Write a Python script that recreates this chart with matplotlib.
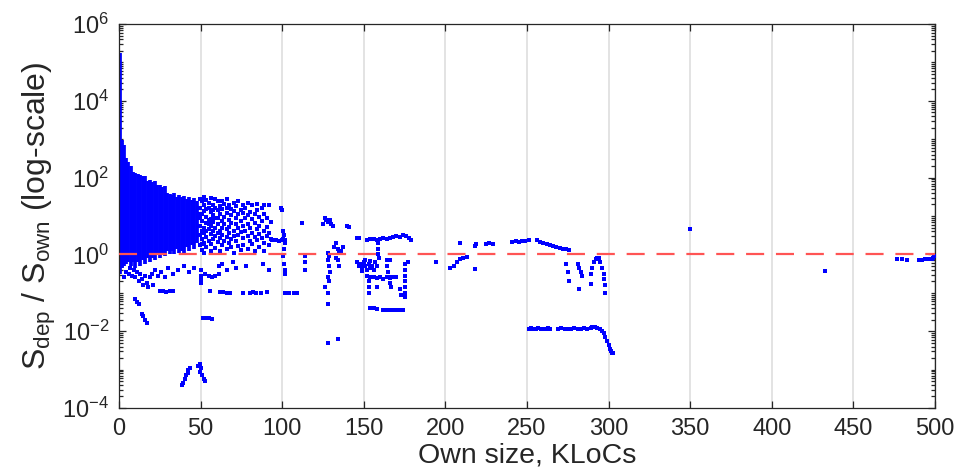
import matplotlib
matplotlib.use("Agg")
import matplotlib.pyplot as plt
import numpy as np
from matplotlib.ticker import FixedLocator, NullFormatter

plt.rcParams['font.family'] = ['Liberation Sans', 'DejaVu Sans']
plt.rcParams['mathtext.default'] = 'regular'
plt.rcParams['lines.scale_dashes'] = False

# dense core of the cloud: column x, log10 lower / upper extent
core_x = [0.5, 1.7, 3.0, 4.4, 5.8, 7.2, 8.6, 10.0, 11.5, 13.0, 14.5, 16.0, 17.5, 19.0,
          20.5, 22.0, 23.5, 25.0, 26.5, 28.0, 29.5, 31.0, 32.5, 34.0, 35.5, 37.0, 38.5,
          40.0, 41.5, 43.0, 44.5, 46.0, 47.5]
core_lo = [-0.5, -0.35, -0.3, -0.25, -0.2, -0.3, -0.2, -0.35, -0.2, -0.3, -0.15, -0.25,
           -0.1, -0.2, -0.1, -0.15, 0.0, -0.1, 0.05, -0.05, 0.1, 0.0, 0.1, 0.0, 0.15, 0.05,
           0.1, 0.0, 0.2, 0.1, 0.25, 0.15, 0.3]
core_hi = [5.25, 2.97, 2.85, 2.5, 2.4, 2.3, 2.15, 2.13, 2.1, 2.08, 2.05, 2.05, 1.92, 1.95,
           1.88, 1.9, 1.8, 1.82, 1.75, 1.78, 1.6, 1.58, 1.55, 1.6, 1.5, 1.55, 1.5, 1.52,
           1.45, 1.5, 1.42, 1.48, 1.4]

# scattered samples around the upper cloud, 49-112 KLoC
cloud_x = [49.5, 49.5, 49.5, 49.5, 49.5, 49.5, 49.5,
           50.8, 50.8, 50.8, 50.8, 50.8, 50.8, 50.8,
           52.1, 52.1, 52.1, 52.1, 52.1, 52.1, 52.1,
           53.6, 53.6, 53.6, 53.6, 53.6, 53.6, 53.6,
           54.9, 54.9, 54.9, 54.9, 54.9, 54.9,
           56.3, 56.3, 56.3, 56.3, 56.3, 56.3, 56.3,
           57.5, 57.5, 57.5, 57.5, 57.5, 57.5,
           58.9, 58.9, 58.9, 58.9, 58.9, 58.9,
           60.4, 60.4, 60.4, 60.4, 60.4, 60.4,
           61.7, 61.7, 61.7, 61.7, 61.7,
           63.2, 63.2, 63.2, 63.2, 63.2, 63.2,
           64.6, 64.6, 64.6, 64.6,
           66.0, 66.0, 66.0, 66.0, 66.0, 66.0,
           67.5, 67.5, 67.5, 67.5, 67.5,
           68.9, 68.9, 68.9, 68.9, 68.9,
           70.3, 70.3, 70.3, 70.3, 70.3,
           71.8, 71.8, 71.8, 71.8,
           73.1, 73.1, 73.1, 73.1, 73.1,
           74.6, 74.6, 74.6, 74.6,
           76.0, 76.0, 76.0, 76.0, 76.0,
           77.4, 77.4, 77.4,
           78.9, 78.9, 78.9, 78.9, 78.9,
           80.3, 80.3, 80.3,
           81.8, 81.8, 81.8, 81.8,
           83.2, 83.2, 83.2, 83.2,
           84.7, 84.7, 84.7, 84.7,
           86.1, 86.1, 86.1, 86.1,
           87.6, 87.6, 87.6,
           89.0, 89.0, 89.0, 89.0, 89.0,
           90.5, 90.5, 90.5,
           92.0, 92.0, 92.0,
           93.4, 93.4,
           94, 96, 98, 100, 102, 99, 100, 112]
cloud_e = [1.45, 1.2, 1.05, 0.95, 0.75, 0.5, 0.25,
           1.38, 1.05, 0.88, 0.62, 0.4, 0.28, 0.12,
           1.5, 1.28, 1.12, 0.7, 0.55, 0.3, 0.05,
           1.42, 1.18, 0.98, 0.82, 0.6, 0.45, 0.2,
           1.35, 1.22, 0.9, 0.78, 0.65, 0.35,
           1.48, 1.1, 0.92, 0.75, 0.52, 0.28, 0.1,
           1.3, 1.15, 1.02, 0.85, 0.6, 0.4,
           1.45, 1.2, 0.95, 0.7, 0.48, 0.18,
           1.38, 1.15, 0.95, 0.78, 0.55, 0.32,
           1.25, 1.05, 0.62, 0.42, 0.08,
           1.4, 1.18, 0.88, 0.7, 0.5, 0.25,
           1.32, 0.98, 0.8, 0.35,
           1.45, 1.22, 1.08, 0.65, 0.45, 0.15,
           1.3, 0.9, 0.72, 0.55, 0.3,
           1.18, 1.02, 0.82, 0.4, 0.2,
           1.35, 1.12, 0.6, 0.48, 0.05,
           1.25, 0.95, 0.78, 0.35,
           1.4, 1.05, 0.68, 0.5, 0.22,
           1.15, 0.88, 0.58, 0.12,
           1.3, 1.08, 0.75, 0.42, 0.25,
           1.2, 0.95, 0.62,
           1.35, 1.02, 0.8, 0.48, 0.15,
           1.1, 0.7, 0.35,
           1.28, 0.92, 0.55, 0.28,
           1.05, 0.82, 0.45, 0.1,
           1.32, 1.15, 0.65, 0.38,
           0.98, 0.75, 0.52, 0.2,
           1.22, 0.88, 0.42,
           1.3, 1.05, 0.62, 0.3, 0.08,
           0.95, 0.72, 0.48,
           1.28, 0.55, 0.25,
           0.85, 0.4,
           0.38, 0.38, 0.36, 0.38, 0.37, 1.2, 1.15, 0.83]

# points below the ratio of one, 0-110 KLoC
low_x = [3, 4, 6, 7, 8, 9, 10, 11, 12, 13, 14, 15, 16, 17, 18, 19, 20, 21, 22, 24, 26, 28,
         30, 33, 36, 40, 43, 46, 25, 27, 29, 31, 33, 10, 11, 12, 14, 15, 16, 17,
         38.6, 39.5, 40.5, 41, 42, 42.5, 43.5, 48.5, 49.5, 50.5, 49.5, 51, 52, 52.7,
         50, 50.5, 50, 50.5, 51.5, 53, 55, 57, 53, 55, 57, 59, 61, 56, 62, 64, 66, 68,
         76, 80, 82, 84, 87, 91, 61, 63, 66, 70, 72, 78, 88, 92,
         100.5, 101, 100.5, 101.5, 101, 100.5, 101, 102, 102, 102, 104, 107, 109]
low_e = [-0.6, -0.45, -0.5, -0.35, -0.55, -0.4, -0.6, -0.45, -0.7, -0.5, -0.65, -0.8,
         -0.55, -0.75, -0.85, -0.6, -0.5, -0.8, -0.4, -0.55, -0.45, -0.6, -0.35, -0.5,
         -0.4, -0.3, -0.45, -0.35, -0.95, -0.95, -0.97, -0.95, -0.96, -1.15, -1.25,
         -1.3, -1.55, -1.6, -1.7, -1.78, -3.4, -3.35, -3.25, -3.15, -3.1, -3.0, -2.95,
         -2.9, -2.85, -2.95, -3.05, -3.15, -3.25, -3.3, -0.4, -0.55, -0.65, -0.75,
         -1.65, -1.65, -1.66, -1.67, -0.5, -0.55, -0.6, -0.55, -0.5, -0.95, -0.97,
         -0.98, -1.0, -1.0, -1.0, -1.0, -0.98, -1.0, -1.0, -0.97, -0.3, -0.25, -0.4,
         -0.2, -0.35, -0.3, -0.25, -0.4,
         0.6, 0.5, 0.4, 0.3, 0.15, -0.05, -0.25, -0.4, -0.5, -1.0, -1.0, -1.0, -1.0]

# 110-200 KLoC
mid_x = [114, 114, 114, 125, 126, 127, 128, 129, 130, 131, 140, 141,
         128, 128.5, 128, 128.5, 129, 128, 128.5, 126, 128, 128, 128, 134,
         132, 133, 134, 135, 136, 137, 133, 134, 135, 146, 147,
         146, 147, 148, 149, 150, 151, 152, 153, 154, 155, 156, 157, 158, 149, 151, 154,
         152, 154, 156, 158, 160, 162, 164, 166, 168, 170, 172, 174, 176, 178, 179,
         158.5, 159, 159, 159.5,
         152, 154, 156, 158, 160, 162, 164, 166, 168, 170, 153, 153, 153, 158,
         164, 166, 164.5, 165, 165.5, 166, 166.5,
         175, 175, 175, 175, 175, 175, 175, 172, 173, 177,
         154, 156, 158, 162, 164, 166, 168, 170, 172, 174, 194]
mid_e = [-0.05, -0.2, -0.4, 0.8, 0.95, 0.9, 0.85, 0.9, 0.8, 0.75, 0.75, 0.72,
         0.05, -0.05, -0.15, -0.3, -0.45, -0.6, -0.68, -0.85, -1.0, -1.3, -2.3, -2.2,
         0.2, 0.3, 0.15, 0.05, 0.1, 0.2, -0.1, -0.15, -0.3, 0.42, 0.42,
         -0.2, -0.3, -0.25, -0.35, -0.2, -0.3, -0.4, -0.25, -0.35, -0.3, -0.4, -0.2,
         -0.3, -0.42, -0.15, -0.18,
         0.38, 0.4, 0.4, 0.38, 0.4, 0.42, 0.4, 0.42, 0.45, 0.47, 0.45, 0.5, 0.48, 0.42, 0.38,
         0.3, 0.15, 0.0, -0.1,
         -0.55, -0.6, -0.58, -0.62, -0.6, -0.65, -0.6, -0.62, -0.58, -0.6, -0.7, -0.85,
         -1.0, -0.85,
         -0.15, -0.15, -0.3, -0.45, -0.6, -0.75, -0.85,
         -0.25, -0.4, -0.55, -0.7, -0.85, -1.0, -1.1, -0.9, -1.05, -0.2,
         -1.4, -1.4, -1.42, -1.46, -1.46, -1.46, -1.46, -1.46, -1.46, -1.46, -0.2]

# 200-305 KLoC
far_x = [203, 205, 207, 209, 211, 213, 209, 218, 219, 225, 227, 229,
         241, 243, 245, 247, 249, 251, 256, 258, 260, 262, 264, 266, 268, 270, 272, 274, 276,
         218, 274, 275, 276, 281, 282, 283, 284, 282, 289, 289,
         290, 291, 292, 293, 294, 295, 296, 297, 297.5, 298, 298,
         251, 252.5, 254, 255.5, 257, 258.5, 260, 261.5, 263, 264,
         269, 271, 273, 275, 277, 279, 281, 283, 285, 287, 289,
         290, 291.5, 293, 294.5, 296, 297, 298, 299, 300, 301, 301.5, 302, 303]
far_e = [-0.35, -0.3, -0.2, -0.12, -0.08, -0.06, 0.29, 0.23, 0.28, 0.28, 0.3, 0.28,
         0.32, 0.34, 0.33, 0.35, 0.36, 0.38, 0.37, 0.33, 0.3, 0.27, 0.25, 0.22, 0.2, 0.18,
         0.15, 0.14, 0.12,
         -0.37, -0.25, -0.45, -0.7, -0.25, -0.35, -0.45, -0.55, -0.9, -0.5, -0.78,
         -0.35, -0.2, -0.12, -0.08, -0.1, -0.2, -0.35, -0.5, -0.65, -0.8, -1.0,
         -1.93, -1.92, -1.94, -1.93, -1.92, -1.93, -1.94, -1.93, -1.92, -1.93,
         -1.93, -1.92, -1.93, -1.94, -1.93, -1.92, -1.93, -1.93, -1.92, -1.93, -1.92,
         -1.9, -1.88, -1.92, -1.95, -2.0, -2.05, -2.15, -2.25, -2.35, -2.45, -2.52,
         -2.56, -2.58]

# beyond 300 KLoC
tail_x = [350, 432.6, 477, 480, 483, 490, 492, 494, 496, 498, 499, 499.5]
tail_e = [0.65, -0.44, -0.13, -0.13, -0.14, -0.14, -0.14, -0.13, -0.12, -0.13, -0.1, -0.05]

ref_x = [0, 500]
ref_y = [1, 1]

blue = (0, 0, 1)
fig = plt.figure(figsize=(9.55, 4.75), dpi=100)
ax = fig.add_axes([0.1246, 0.141, 0.8544, 0.8084])

ax.vlines(core_x, 10.0 ** np.array(core_lo), 10.0 ** np.array(core_hi),
          colors=[blue], linewidth=2.7, capstyle='butt', zorder=2)
for xs, es in [(cloud_x, cloud_e), (low_x, low_e), (mid_x, mid_e), (far_x, far_e),
               (tail_x, tail_e)]:
    ax.plot(xs, 10.0 ** np.array(es), 's', color=blue, markersize=3.0,
            markeredgewidth=0, zorder=3)

ax.plot(ref_x, ref_y, color=(1, 0.33, 0.33), linewidth=1.6, dashes=(13, 8.5), zorder=4)

ax.set_yscale('log')
ax.set_xlim(0, 500)
ax.set_ylim(1e-4, 1e6)
ax.set_xticks(np.arange(0, 501, 50))
ax.yaxis.set_major_locator(FixedLocator([1e-4, 1e-2, 1e0, 1e2, 1e4, 1e6]))
minor = [m * 10.0 ** d for d in range(-4, 6) for m in range(1, 10)
         if not (m == 1 and d % 2 == 0)]
ax.yaxis.set_minor_locator(FixedLocator(minor))
ax.yaxis.set_minor_formatter(NullFormatter())
ax.set_yticklabels(['10$^{-4}$', '10$^{-2}$', '10$^{0}$', '10$^{2}$', '10$^{4}$', '10$^{6}$'])

ax.grid(True, axis='x', color=(0.87, 0.87, 0.87), linewidth=1.2)
ax.set_axisbelow(True)
ax.tick_params(which='both', direction='in', top=True, right=True, colors='#262626',
               labelsize=17, width=0.9)
ax.tick_params(which='major', length=5, pad=7)
ax.tick_params(which='minor', length=3)
for s in ax.spines.values():
    s.set_color('#262626')
    s.set_linewidth(0.9)

ax.set_xlabel('Own size, KLoCs', fontsize=20.5, color='#262626', labelpad=2)
ax.set_ylabel('S$_{dep}$ / S$_{own}$ (log-scale)', fontsize=23, color='#262626',
              labelpad=3)

fig.savefig('out.png', dpi=100)
